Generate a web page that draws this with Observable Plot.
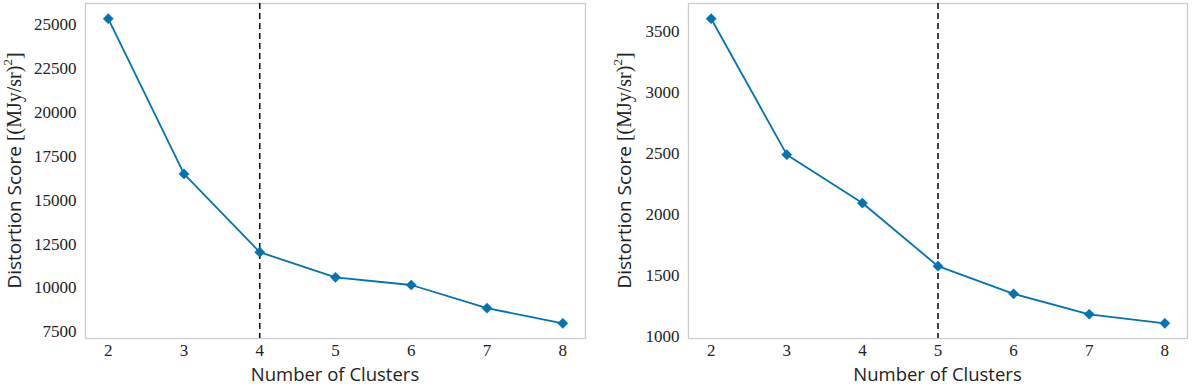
<!DOCTYPE html>
<html>
<head>
<meta charset="utf-8">
<script src="https://cdn.jsdelivr.net/npm/d3@7"></script>
<script src="https://cdn.jsdelivr.net/npm/@observablehq/plot@0.6"></script>
<style>
  html, body { margin: 0; padding: 0; background: #fff; }
  #row { display: flex; flex-direction: row; width: 1200px; height: 386px; }
  svg text { fill: #222; }
</style>
</head>
<body>
<div id="row"></div>
<script>
// ---- data ----
const clusters = [2, 3, 4, 5, 6, 7, 8];
const distortionLeft = [25340, 16500, 12040, 10610, 10170, 8850, 7990];
const distortionRight = [3609, 2492, 2094, 1575, 1348, 1180, 1106];
const elbowLeft = 4;
const elbowRight = 5;
const xTicks = [2, 3, 4, 5, 6, 7, 8];
const yTicksLeft = [7500, 10000, 12500, 15000, 17500, 20000, 22500, 25000];
const yTicksRight = [1000, 1500, 2000, 2500, 3000, 3500];
const xLabel = "Number of Clusters";
const yLabelMain = "Distortion Score ";
const yLabelUnit = "[(MJy/sr)";
const yLabelExp = "2";

const lineColor = "#0173b2";
const serif = "'Liberation Serif', 'DejaVu Serif', serif";
const sans = "'Open Sans', 'DejaVu Sans', sans-serif";

function pad(vals, frac) {
  const lo = d3.min(vals), hi = d3.max(vals);
  const m = (hi - lo) * frac;
  return [lo - m, hi + m];
}

function panel(values, elbow, yTicks, ml, mr, labelX) {
  const data = clusters.map((k, i) => ({k, v: values[i]}));
  const plot = Plot.plot({
    width: 600,
    height: 386,
    marginLeft: ml,
    marginRight: mr,
    marginTop: 3,
    marginBottom: 48,
    style: {fontFamily: serif, fontSize: "17px", color: "#333", background: "#fff"},
    x: {domain: pad(clusters, 0.05), ticks: xTicks, tickFormat: d => String(d), tickSize: 0, tickPadding: 5, label: null},
    y: {domain: pad(values, 0.05), ticks: yTicks, tickFormat: d => String(d), tickSize: 0, tickPadding: 9, label: null},
    marks: [
      Plot.frame({stroke: "#cccccc", strokeWidth: 1.3}),
      Plot.ruleX([elbow], {stroke: "#111", strokeWidth: 1.6, strokeDasharray: "6,4"}),
      Plot.line(data, {x: "k", y: "v", stroke: lineColor, strokeWidth: 1.8}),
      Plot.dot(data, {x: "k", y: "v", symbol: "diamond2", r: 4.6, fill: lineColor, stroke: lineColor, strokeWidth: 0.5})
    ]
  });
  const svg = d3.select(plot);
  // x label
  svg.append("text")
    .attr("x", ml + (600 - ml - mr) / 2)
    .attr("y", 380.5)
    .attr("text-anchor", "middle")
    .style("font-family", sans)
    .style("font-size", "18.5px")
    .style("fill", "#222")
    .text(xLabel);
  // y label
  const t = svg.append("text")
    .attr("transform", `translate(${labelX},${3 + (386 - 48 - 3) / 2}) rotate(-90)`)
    .attr("text-anchor", "middle")
    .attr("dominant-baseline", "middle")
    .style("font-size", "19px")
    .style("fill", "#222");
  t.append("tspan").style("font-family", sans).text(yLabelMain);
  t.append("tspan").style("font-family", serif).style("font-size", "20px").text(yLabelUnit);
  t.append("tspan").style("font-family", serif).style("font-size", "13px").attr("dy", "-7").text(yLabelExp);
  t.append("tspan").style("font-family", serif).style("font-size", "20px").attr("dy", "7").text("]");
  return plot;
}

const row = document.getElementById("row");
row.appendChild(panel(distortionLeft, elbowLeft, yTicksLeft, 85, 15, 16));
row.appendChild(panel(distortionRight, elbowRight, yTicksRight, 88, 13, 26));
</script>
</body>
</html>
